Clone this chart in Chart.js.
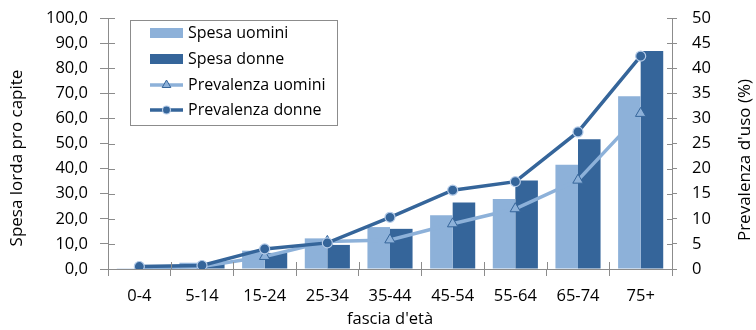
<!DOCTYPE html>
<html>
<head>
<meta charset="utf-8">
<script src="https://cdn.jsdelivr.net/npm/chart.js@4"></script>
<style>
  body { margin: 0; background: #fff; }
  #wrap { position: relative; width: 756px; height: 330px; }
</style>
</head>
<body>
<div id="wrap"><canvas id="chart" width="756" height="330"></canvas></div>
<script>
const categories = ["0-4", "5-14", "15-24", "25-34", "35-44", "45-54", "55-64", "65-74", "75+"];
const spesaUomini = [0.3, 2.5, 7.3, 12.2, 16.7, 21.4, 27.9, 41.5, 68.8];
const spesaDonne = [0.3, 2.0, 6.4, 9.6, 16.0, 26.5, 35.3, 51.7, 86.9];
const prevUomini = [0.2, 0.5, 2.5, 5.5, 5.8, 9.0, 12.0, 17.7, 31.0];
const prevDonne = [0.5, 0.7, 4.0, 5.2, 10.3, 15.7, 17.4, 27.3, 42.4];

const leftTitle = "Spesa lorda pro capite";
const rightTitle = "Prevalenza d'uso (%)";
const xTitle = "fascia d'età";

const FONT = "'Open Sans', sans-serif";
const LIGHT = "#8db1d9";
const DARK = "#35659a";
const AXIS = "#8c8c8c";

// inward halves of the crossing tick marks + rotated axis titles
const axesExtras = {
  id: "axesExtras",
  afterDraw(chart) {
    const ctx = chart.ctx;
    const { y, y1 } = chart.scales;
    const area = chart.chartArea;
    ctx.save();
    ctx.strokeStyle = AXIS;
    ctx.lineWidth = 1;
    ctx.beginPath();
    y.ticks.forEach(t => {
      const py = Math.round(y.getPixelForValue(t.value)) + 0.5;
      ctx.moveTo(area.left, py); ctx.lineTo(area.left + 7, py);
    });
    y1.ticks.forEach(t => {
      const py = Math.round(y1.getPixelForValue(t.value)) + 0.5;
      ctx.moveTo(area.right - 5, py); ctx.lineTo(area.right, py);
    });
    for (let i = 0; i <= categories.length; i++) {
      const px = Math.round(area.left + (area.right - area.left) * i / categories.length) + 0.5;
      ctx.moveTo(px, area.bottom); ctx.lineTo(px, area.bottom - 7);
    }
    ctx.stroke();

    ctx.fillStyle = "#000";
    ctx.font = "17px " + FONT;
    ctx.textAlign = "center";
    ctx.textBaseline = "middle";
    ctx.save();
    ctx.translate(17, 158);
    ctx.rotate(-Math.PI / 2);
    ctx.fillText(leftTitle, 0, 0);
    ctx.restore();
    ctx.save();
    ctx.translate(745, 160);
    ctx.rotate(-Math.PI / 2);
    ctx.fillText(rightTitle, 0, 0);
    ctx.restore();
    ctx.restore();
  }
};

// boxed legend drawn inside the plot
const boxLegend = {
  id: "boxLegend",
  afterDraw(chart) {
    const ctx = chart.ctx;
    const rows = [33, 59, 85, 110];
    ctx.save();
    ctx.fillStyle = "#fff";
    ctx.fillRect(130, 20, 207, 105);
    ctx.strokeStyle = "#8c8c8c";
    ctx.lineWidth = 1;
    ctx.strokeRect(130.5, 20.5, 207, 105);
    chart.data.datasets.forEach((ds, i) => {
      const cy = rows[i];
      if (ds.type === "line") {
        ctx.strokeStyle = ds.borderColor;
        ctx.lineWidth = ds.borderWidth;
        ctx.beginPath();
        ctx.moveTo(150, cy); ctx.lineTo(183, cy);
        ctx.stroke();
        ctx.fillStyle = ds.pointBackgroundColor;
        ctx.strokeStyle = ds.pointBorderColor;
        ctx.lineWidth = ds.pointBorderWidth;
        Chart.helpers.drawPoint(ctx, {
          pointStyle: ds.pointStyle, radius: ds.pointRadius - 1,
          borderWidth: ds.pointBorderWidth, rotation: 0
        }, 166.5, cy);
      } else {
        ctx.fillStyle = ds.backgroundColor;
        ctx.fillRect(150, cy - 5, 33, 10);
      }
      ctx.fillStyle = "#000";
      ctx.font = "16px " + FONT;
      ctx.textAlign = "left";
      ctx.textBaseline = "middle";
      ctx.fillText(ds.label, 188, cy);
    });
    ctx.restore();
  }
};

function fixWidth(w) {
  return s => { s.width = w; s.paddingTop = 0; s.paddingBottom = 0; };
}

new Chart(document.getElementById("chart"), {
  data: {
    labels: categories,
    datasets: [
      {
        type: "bar", label: "Spesa uomini", data: spesaUomini, yAxisID: "y",
        backgroundColor: LIGHT, categoryPercentage: 0.72, barPercentage: 1, order: 3
      },
      {
        type: "bar", label: "Spesa donne", data: spesaDonne, yAxisID: "y",
        backgroundColor: DARK, categoryPercentage: 0.72, barPercentage: 1, order: 3
      },
      {
        type: "line", label: "Prevalenza uomini", data: prevUomini, yAxisID: "y1",
        borderColor: LIGHT, borderWidth: 3.5, pointStyle: "triangle", pointRadius: 6,
        pointBackgroundColor: LIGHT, pointBorderColor: DARK, pointBorderWidth: 1,
        tension: 0, order: 2
      },
      {
        type: "line", label: "Prevalenza donne", data: prevDonne, yAxisID: "y1",
        borderColor: DARK, borderWidth: 3.5, pointStyle: "circle", pointRadius: 5,
        pointBackgroundColor: DARK, pointBorderColor: "#b4cbe8", pointBorderWidth: 1.2,
        tension: 0, order: 1
      }
    ]
  },
  options: {
    responsive: false,
    animation: false,
    layout: { padding: { top: 18, left: 0, right: 0, bottom: 0 } },
    plugins: { legend: { display: false }, tooltip: { enabled: false } },
    scales: {
      x: {
        offset: true,
        grid: { drawOnChartArea: false, offset: true, color: AXIS, tickLength: 7 },
        border: { color: AXIS },
        ticks: { color: "#000", font: { family: FONT, size: 16.5 }, padding: 10, maxRotation: 0 },
        title: { display: true, text: xTitle, color: "#000", font: { family: FONT, size: 16.5 }, padding: { top: 0, bottom: 1 } },
        afterFit(s) { s.height = 61; s.paddingLeft = 0; s.paddingRight = 0; }
      },
      y: {
        position: "left", min: 0, max: 100,
        ticks: {
          stepSize: 10, color: "#000", font: { family: FONT, size: 16.5 }, padding: 12,
          callback: v => v.toFixed(1).replace(".", ",")
        },
        grid: { drawOnChartArea: false, color: AXIS, tickLength: 8 },
        border: { color: AXIS },
        afterFit: fixWidth(108)
      },
      y1: {
        position: "right", min: 0, max: 50,
        ticks: { stepSize: 5, color: "#000", font: { family: FONT, size: 16.5 }, padding: 15 },
        grid: { drawOnChartArea: false, color: AXIS, tickLength: 5 },
        border: { color: AXIS },
        afterFit: fixWidth(84)
      }
    }
  },
  plugins: [axesExtras, boxLegend]
});
</script>
</body>
</html>
